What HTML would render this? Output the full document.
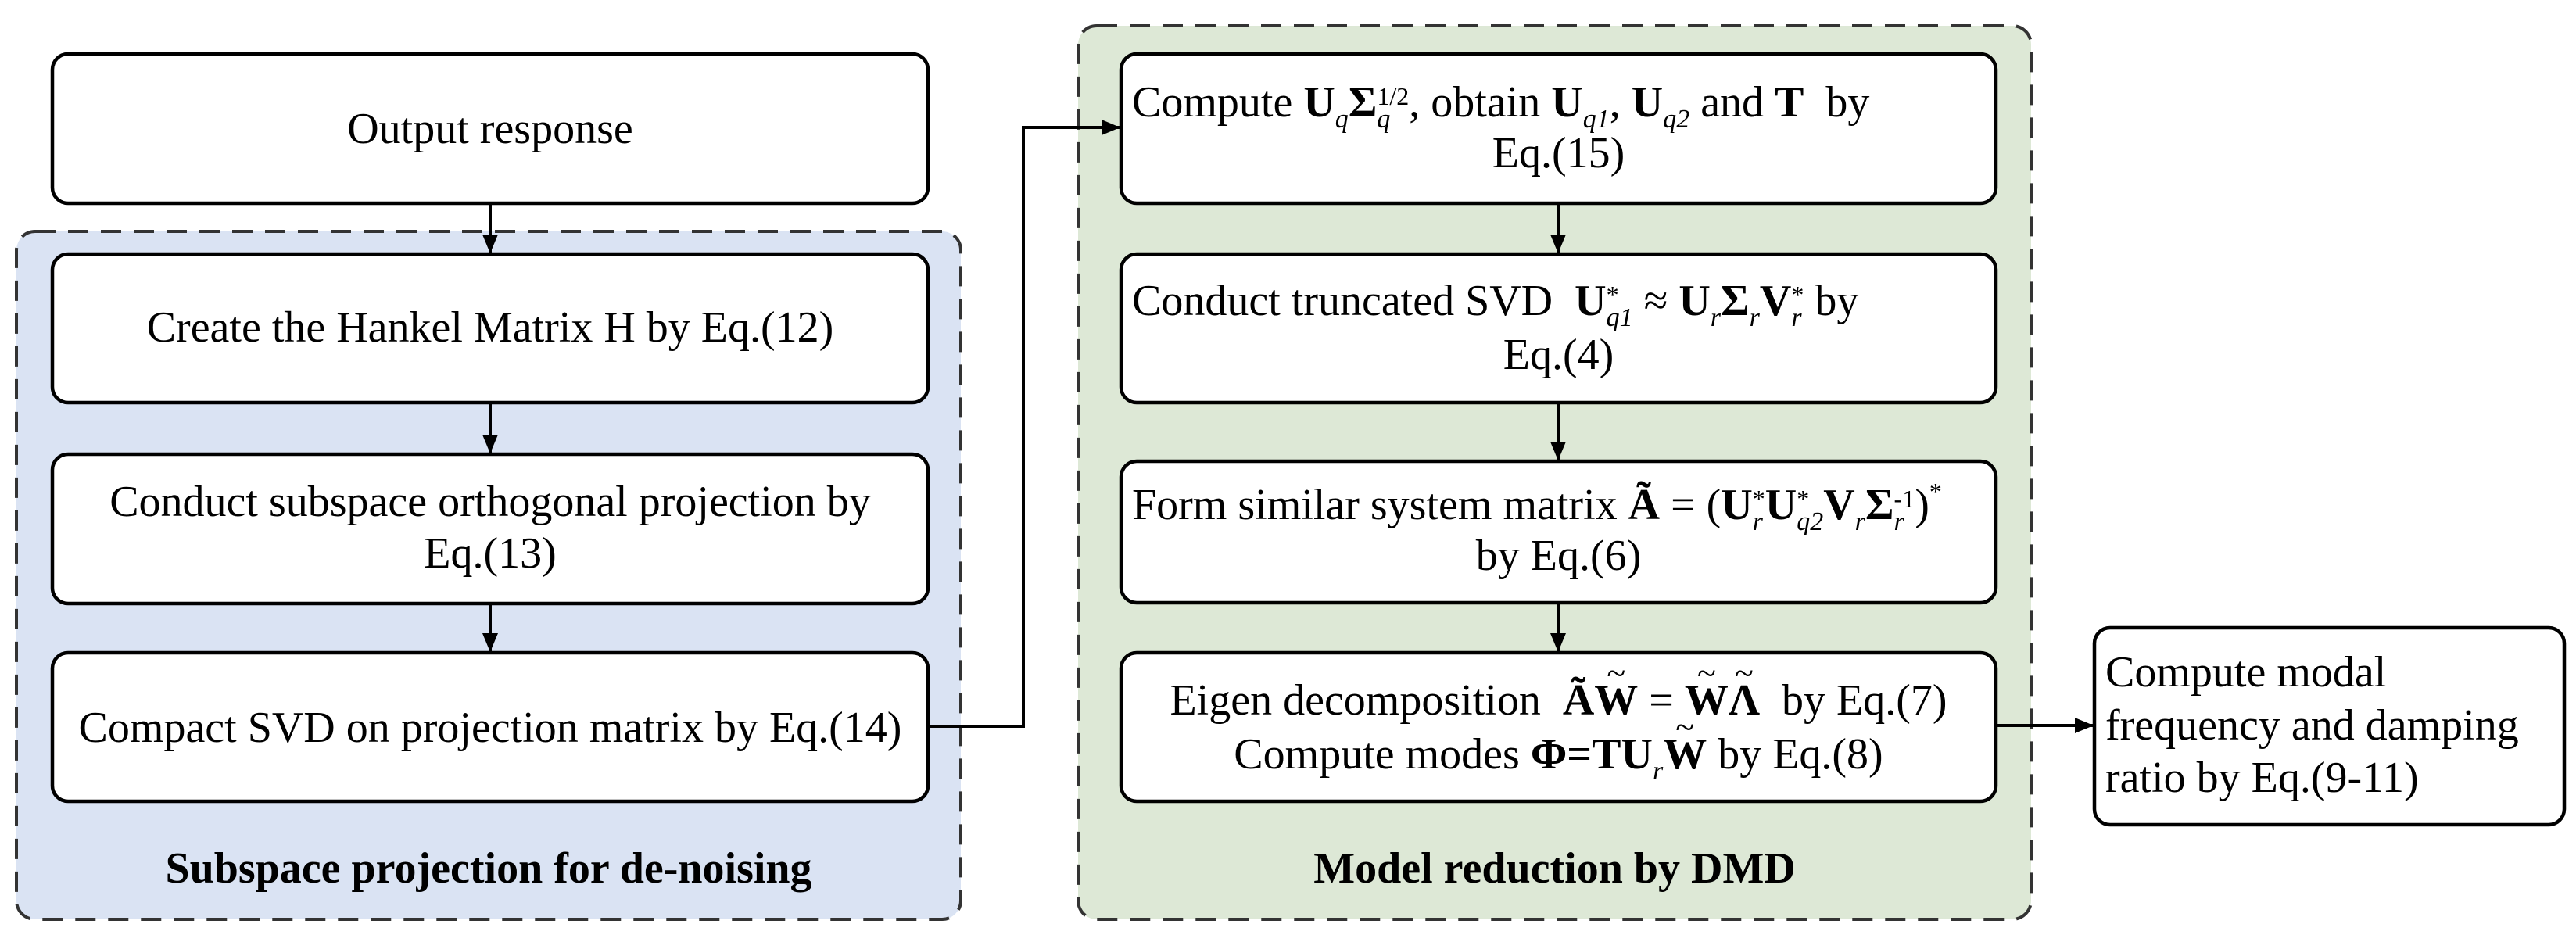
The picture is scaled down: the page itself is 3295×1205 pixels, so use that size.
<!DOCTYPE html>
<html><head><meta charset="utf-8"><style>
html,body{margin:0;padding:0;background:#fff;}
#c{position:relative;width:3295px;height:1205px;overflow:hidden;font-family:"Times New Roman","Liberation Serif",serif;color:#000;}
.t{position:absolute;white-space:nowrap;font-size:56px;line-height:64px;height:64px;font-family:"Times New Roman","Liberation Serif",serif;}
.ctr{text-align:center;}
b{font-weight:bold;}
.s{font-style:italic;font-size:34px;position:relative;top:14px;}
.p{font-size:32px;position:relative;top:-24px;}
.ss{display:inline-block;vertical-align:-14px;font-size:32px;line-height:30px;text-align:left;}
.ss span{display:block;}
.ss .b{font-style:italic;font-size:34px;}
.tl{position:relative;display:inline-block;}
.tl::before{content:"~";position:absolute;left:0;right:0;text-align:center;top:-34px;font-weight:normal;font-size:44px;}
</style></head><body><div id="c">
<svg width="3295" height="1205" style="position:absolute;left:0;top:0">
<defs><marker id="ar" markerWidth="24" markerHeight="20" refX="23" refY="10" orient="auto" markerUnits="userSpaceOnUse" viewBox="0 0 24 20"><path d="M0,0 L24,10 L0,20 z" fill="#000"/></marker></defs>
<rect x="21" y="296" width="1208" height="880" rx="24" fill="#dae3f3" stroke="#333" stroke-width="4" stroke-dasharray="26,16"/>
<rect x="1379" y="33" width="1219" height="1143" rx="24" fill="#dde8d6" stroke="#333" stroke-width="4" stroke-dasharray="26,16"/>
<g fill="#fff" stroke="#000" stroke-width="4.5">
<rect x="67" y="69" width="1120" height="191" rx="20"/>
<rect x="67" y="325" width="1120" height="190" rx="20"/>
<rect x="67" y="581" width="1120" height="191" rx="20"/>
<rect x="67" y="835" width="1120" height="190" rx="20"/>
<rect x="1434" y="69" width="1119" height="191" rx="20"/>
<rect x="1434" y="325" width="1119" height="190" rx="20"/>
<rect x="1434" y="590" width="1119" height="181" rx="20"/>
<rect x="1434" y="835" width="1119" height="190" rx="20"/>
<rect x="2679" y="803" width="601" height="252" rx="20"/>
</g>
<g stroke="#000" stroke-width="4" fill="none">
<line x1="627" y1="262" x2="627" y2="323" marker-end="url(#ar)"/>
<line x1="627" y1="517" x2="627" y2="579" marker-end="url(#ar)"/>
<line x1="627" y1="774" x2="627" y2="833" marker-end="url(#ar)"/>
<line x1="1993" y1="262" x2="1993" y2="323" marker-end="url(#ar)"/>
<line x1="1993" y1="517" x2="1993" y2="588" marker-end="url(#ar)"/>
<line x1="1993" y1="773" x2="1993" y2="833" marker-end="url(#ar)"/>
<polyline points="1189,929 1309,929 1309,163 1432,163" marker-end="url(#ar)"/>
<line x1="2555" y1="928" x2="2677" y2="928" marker-end="url(#ar)"/>
</g>
</svg>
<div class="t ctr" style="left:67px;width:1120px;top:133px">Output response</div>
<div class="t ctr" style="left:67px;width:1120px;top:387px">Create the Hankel Matrix H by Eq.(12)</div>
<div class="t ctr" style="left:67px;width:1120px;top:610px">Conduct subspace orthogonal projection by</div>
<div class="t ctr" style="left:67px;width:1120px;top:676px">Eq.(13)</div>
<div class="t ctr" style="left:67px;width:1120px;top:899px">Compact SVD on projection matrix by Eq.(14)</div>
<div class="t ctr" style="left:21px;width:1208px;top:1079px;font-weight:bold">Subspace projection for de-noising</div>

<div class="t" style="left:1448px;top:99px">Compute <b>U</b><span class="s">q</span><b>Σ</b><span class="ss"><span>1/2</span><span class="b">q</span></span>, obtain <b>U</b><span class="s">q1</span>, <b>U</b><span class="s">q2</span> and <b>T</b>&nbsp; by</div>
<div class="t ctr" style="left:1434px;width:1119px;top:164px">Eq.(15)</div>
<div class="t" style="left:1448px;top:353px">Conduct truncated SVD &nbsp;<b>U</b><span class="ss"><span>*</span><span class="b">q1</span></span> ≈ <b>U</b><span class="s">r</span><b>Σ</b><span class="s">r</span><b>V</b><span class="ss"><span>*</span><span class="b">r</span></span> by</div>
<div class="t ctr" style="left:1434px;width:1119px;top:422px">Eq.(4)</div>
<div class="t" style="left:1448px;top:614px">Form similar system matrix <b>Ã</b> = (<b>U</b><span class="ss"><span>*</span><span class="b">r</span></span><b>U</b><span class="ss"><span>*</span><span class="b">q2</span></span><b>V</b><span class="s">r</span><b>Σ</b><span class="ss"><span>-1</span><span class="b">r</span></span>)<span class="p">*</span></div>
<div class="t ctr" style="left:1434px;width:1119px;top:679px">by Eq.(6)</div>
<div class="t ctr" style="left:1434px;width:1119px;top:864px">Eigen decomposition &nbsp;<b>Ã<span class="tl">W</span></b> = <b><span class="tl">W</span><span class="tl">Λ</span></b> &nbsp;by Eq.(7)</div>
<div class="t ctr" style="left:1434px;width:1119px;top:933px">Compute modes <b>Φ=TU</b><span class="s">r</span><b><span class="tl">W</span></b> by Eq.(8)</div>
<div class="t ctr" style="left:1379px;width:1219px;top:1079px;font-weight:bold">Model reduction by DMD</div>

<div class="t" style="left:2693px;top:828px">Compute modal</div>
<div class="t" style="left:2693px;top:896px">frequency and damping</div>
<div class="t" style="left:2693px;top:963px">ratio by Eq.(9-11)</div>
</div></body></html>
